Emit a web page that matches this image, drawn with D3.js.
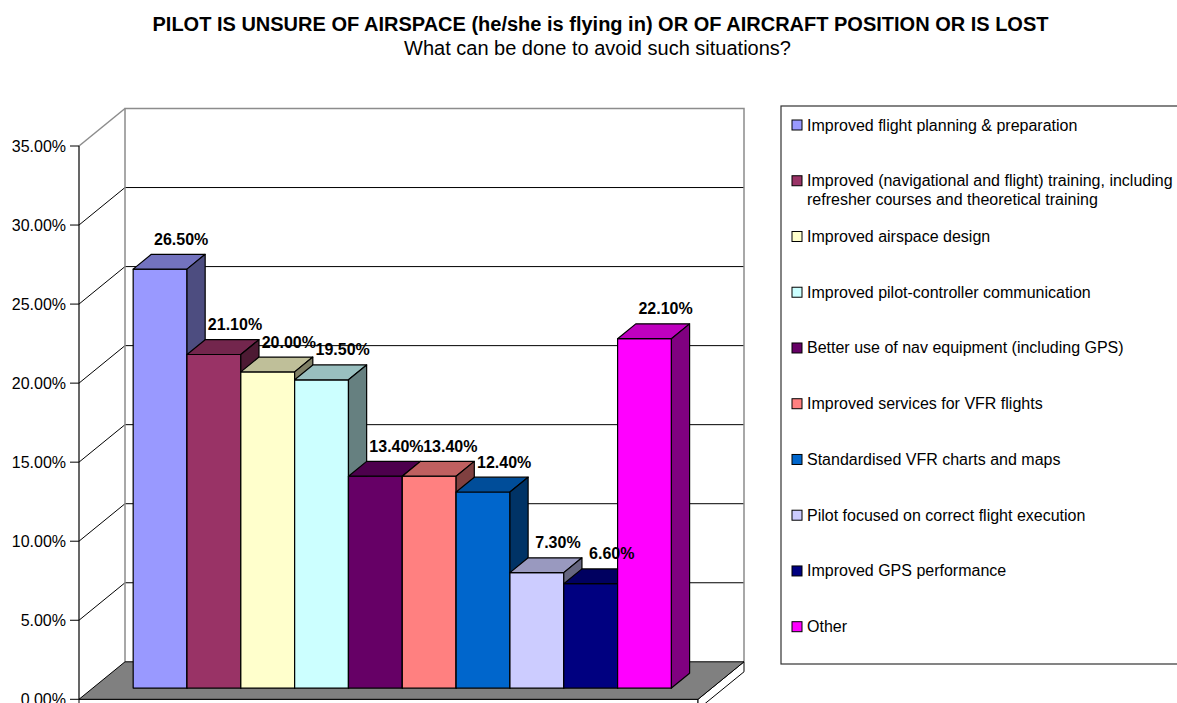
<!DOCTYPE html>
<html>
<head>
<meta charset="utf-8">
<script src="https://cdn.jsdelivr.net/npm/d3@7"></script>
<style>
  html, body { margin: 0; padding: 0; background: #fff; }
  svg { display: block; font-family: "Liberation Sans", Arial, sans-serif; }
</style>
</head>
<body>
<svg id="chart" width="1177" height="703"></svg>
<script>
// ---------------- data ----------------
const titleText = "PILOT IS UNSURE OF AIRSPACE (he/she is flying in) OR OF AIRCRAFT POSITION OR IS LOST";
const subtitleText = "What can be done to avoid such situations?";
const categories = [
  "Improved flight planning & preparation",
  "Improved (navigational and flight) training, including refresher courses and theoretical training",
  "Improved airspace design",
  "Improved pilot-controller communication",
  "Better use of nav equipment (including GPS)",
  "Improved services for VFR flights",
  "Standardised VFR charts and maps",
  "Pilot focused on correct flight execution",
  "Improved GPS performance",
  "Other"
];
const values = [0.265, 0.211, 0.200, 0.195, 0.134, 0.134, 0.124, 0.073, 0.066, 0.221];
const colors = ["#9999FF", "#993366", "#FFFFCC", "#CCFFFF", "#660066",
                "#FF8080", "#0066CC", "#CCCCFF", "#000080", "#FF00FF"];
const yTicks = [0, 0.05, 0.10, 0.15, 0.20, 0.25, 0.30, 0.35];

// ---------------- layout ----------------
const svg = d3.select("#chart");
const DX = 46, DY = -37.5;          // full depth offset of the 3D box
const F0 = 0.30, FD = 0.395;        // bar front depth fraction and bar depth
const y = d3.scaleLinear().domain([0, 0.35]).range([699.3, 146]);
const x = d3.scaleBand().domain(categories).range([79, 698]).paddingInner(0).paddingOuter(0.75);
const P = (px, py, f) => [px + f * DX, py + f * DY];
const poly = pts => "M" + pts.map(p => p.join(",")).join("L") + "Z";
const fmt = d3.format(".2%");
const shade = (c, k) => { const r = d3.rgb(c); return d3.rgb(r.r * k, r.g * k, r.b * k).formatHex(); };

const xL = x.range()[0], xR = x.range()[1];
const y0 = y(0), yMax = y(0.35);

// titles
svg.append("text").attr("x", 600.5).attr("y", 31).attr("text-anchor", "middle")
  .attr("font-size", 20).attr("font-weight", "bold").text(titleText);
svg.append("text").attr("x", 597.5).attr("y", 55).attr("text-anchor", "middle")
  .attr("font-size", 20).text(subtitleText);

// walls
svg.append("path").attr("d", poly([P(xL, y0, 1), P(xR, y0, 1), P(xR, yMax, 1), P(xL, yMax, 1)]))
  .attr("fill", "#fff").attr("stroke", "none");
svg.append("path").attr("d", poly([[xL, y0], P(xL, y0, 1), P(xL, yMax, 1), [xL, yMax]]))
  .attr("fill", "#fff").attr("stroke", "none");

// gridlines on back wall and left wall
const inner = yTicks.filter(t => t > 0 && t < 0.35);
svg.append("g").selectAll("line.g").data(inner).join("line")
  .attr("x1", d => P(xL, y(d), 1)[0]).attr("y1", d => P(xL, y(d), 1)[1])
  .attr("x2", d => P(xR, y(d), 1)[0]).attr("y2", d => P(xR, y(d), 1)[1])
  .attr("stroke", "#000").attr("stroke-width", 1);
svg.append("g").selectAll("line.d").data(inner).join("line")
  .attr("x1", xL).attr("y1", d => y(d))
  .attr("x2", d => P(xL, y(d), 1)[0]).attr("y2", d => P(xL, y(d), 1)[1])
  .attr("stroke", "#000").attr("stroke-width", 1);

// wall edges (gray)
const edgeG = svg.append("g").attr("fill", "none").attr("stroke", "#8c8c8c").attr("stroke-width", 1.5);
edgeG.append("path").attr("d", "M" + [P(xL, y0, 1), P(xL, yMax, 1), P(xR, yMax, 1), P(xR, y0, 1)].map(p => p.join(",")).join("L"));
edgeG.append("path").attr("d", "M" + [[xL, yMax], P(xL, yMax, 1)].map(p => p.join(",")).join("L"));

// floor slab
const th = 10;
svg.append("path").attr("d", poly([[xL, y0], [xR, y0], [xR, y0 + th], [xL, y0 + th]]))
  .attr("fill", "#fff").attr("stroke", "#000").attr("stroke-width", 1);
svg.append("path").attr("d", poly([[xR, y0], P(xR, y0, 1), [P(xR, y0, 1)[0], P(xR, y0, 1)[1] + th], [xR, y0 + th]]))
  .attr("fill", "#fff").attr("stroke", "#000").attr("stroke-width", 1);
svg.append("path").attr("d", poly([[xL, y0], [xR, y0], P(xR, y0, 1), P(xL, y0, 1)]))
  .attr("fill", "#808080").attr("stroke", "#000").attr("stroke-width", 1);

// y axis
svg.append("line").attr("x1", xL).attr("x2", xL).attr("y1", yMax).attr("y2", y0)
  .attr("stroke", "#000").attr("stroke-width", 1.2);
const tk = svg.append("g");
tk.selectAll("line").data(yTicks).join("line")
  .attr("x1", xL - 9).attr("x2", xL).attr("y1", d => y(d)).attr("y2", d => y(d))
  .attr("stroke", "#000").attr("stroke-width", 1);
tk.selectAll("text").data(yTicks).join("text")
  .attr("x", xL - 13).attr("y", d => y(d)).attr("dy", "0.36em")
  .attr("text-anchor", "end").attr("font-size", 16).attr("fill", "#000")
  .text(d => fmt(d));

// bars
const bw = x.bandwidth();
const bars = svg.append("g").attr("stroke", "#000").attr("stroke-width", 1.2).attr("stroke-linejoin", "round");
categories.forEach((c, i) => {
  const v = values[i];
  const [xl, yt] = P(x(c), y(v), F0);
  const yb = P(x(c), y0, F0)[1];
  const xr = xl + bw;
  const ddx = FD * DX, ddy = FD * DY;
  bars.append("path").attr("d", poly([[xl, yt], [xr, yt], [xr, yb], [xl, yb]])).attr("fill", colors[i]);
  bars.append("path").attr("d", poly([[xl, yt], [xr, yt], [xr + ddx, yt + ddy], [xl + ddx, yt + ddy]]))
    .attr("fill", shade(colors[i], 0.75));
  bars.append("path").attr("d", poly([[xr, yt], [xr + ddx, yt + ddy], [xr + ddx, yb + ddy], [xr, yb]]))
    .attr("fill", shade(colors[i], 0.5));
});

// value labels
svg.append("g").selectAll("text").data(categories).join("text")
  .attr("x", (c) => P(x(c), 0, F0)[0] + bw / 2 + FD * DX / 2 + 12)
  .attr("y", (c, i) => P(x(c), y(values[i]), F0)[1] + FD * DY - 9.5)
  .attr("text-anchor", "middle").attr("font-size", 16).attr("font-weight", "bold")
  .text((c, i) => fmt(values[i]));

// legend
const lg = svg.append("g");
lg.append("rect").attr("x", 781).attr("y", 106).attr("width", 430).attr("height", 558)
  .attr("fill", "#fff").attr("stroke", "#333").attr("stroke-width", 1.2);
const itemY = d3.scaleLinear().domain([0, categories.length - 1]).range([125, 626.7]);
categories.forEach((c, i) => {
  const yc = itemY(i);
  lg.append("rect").attr("x", 792).attr("y", yc - 5).attr("width", 10).attr("height", 10)
    .attr("fill", colors[i]).attr("stroke", "#000").attr("stroke-width", 1);
  const t = lg.append("text").attr("x", 807).attr("y", yc + 5.5).attr("font-size", 16);
  // wrap
  const words = c.split(" ");
  let line = [], lines = [];
  const probe = lg.append("text").attr("font-size", 16).attr("visibility", "hidden");
  words.forEach(w => {
    const test = line.concat([w]).join(" ");
    probe.text(test);
    if (line.length && probe.node().getComputedTextLength() > 368) { lines.push(line.join(" ")); line = [w]; }
    else line.push(w);
  });
  lines.push(line.join(" "));
  probe.remove();
  lines.forEach((l, k) => t.append("tspan").attr("x", 807).attr("dy", k === 0 ? 0 : 18.3).text(l));
});
</script>
</body>
</html>
